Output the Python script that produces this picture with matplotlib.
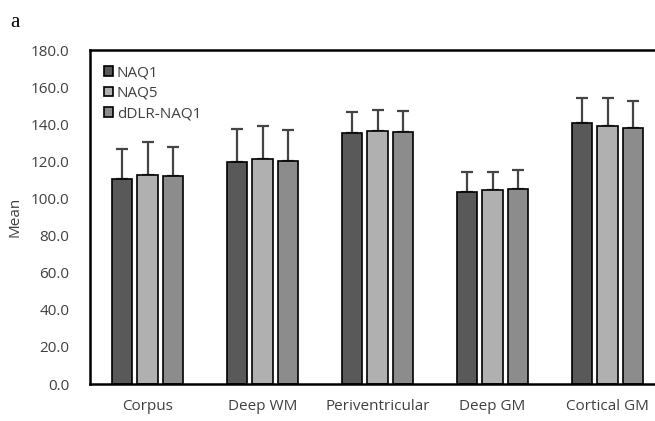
import numpy as np
import matplotlib.pyplot as plt

# regions and series (mean, upper SD)
regions = ["Corpus", "Deep WM", "Periventricular", "Deep GM", "Cortical GM"]
series = ["NAQ1", "NAQ5", "dDLR-NAQ1"]

naq1_mean = [110.5, 119.6, 135.2, 103.4, 140.6]
naq5_mean = [112.6, 121.2, 136.3, 104.5, 139.0]
ddlr_mean = [112.0, 120.1, 135.8, 105.1, 137.9]

naq1_sd = [16.1, 17.8, 11.3, 10.8, 13.5]
naq5_sd = [17.8, 17.8, 11.3, 9.7, 15.1]
ddlr_sd = [15.7, 16.7, 11.3, 10.2, 14.6]

y_ticks = [0, 20, 40, 60, 80, 100, 120, 140, 160, 180]

colors = ["#595959", "#b0b0b0", "#8c8c8c"]

plt.rcParams['font.family'] = ['Open Sans', 'DejaVu Sans']

fig = plt.figure(figsize=(6.55, 4.21), dpi=100)
ax = fig.add_axes([90 / 655, 37 / 421, 575 / 655, 334 / 421])

x = np.arange(len(regions))
means = [naq1_mean, naq5_mean, ddlr_mean]
sds = [naq1_sd, naq5_sd, ddlr_sd]
offsets = [-0.223, 0.0, 0.223]
width = 0.175

for i in range(3):
    ax.bar(x + offsets[i], means[i], width, color=colors[i], edgecolor="black",
           linewidth=1.2, label=series[i], zorder=2)
    ax.errorbar(x + offsets[i], means[i],
                yerr=[np.zeros(len(regions)), sds[i]],
                fmt="none", ecolor="#444444", elinewidth=1.6, capsize=4,
                capthick=1.6, zorder=1)

ax.set_xlim(-0.5, 4.5)
ax.set_ylim(0, 180)
ax.set_yticks(y_ticks)
ax.set_yticklabels(["{:.1f}".format(v) for v in y_ticks], color="#404040")
ax.set_xticks(x)
ax.set_xticklabels(regions, color="#404040")
ax.tick_params(axis="both", length=0, labelsize=11)
ax.tick_params(axis="y", pad=15)
ax.tick_params(axis="x", pad=11)

for s in ax.spines.values():
    s.set_linewidth(1.8)
    s.set_color("black")
ax.spines["right"].set_visible(False)

ax.set_ylabel("Mean", fontsize=11, color="#404040")
ax.yaxis.set_label_coords(-0.118, 0.5)

ax.legend(loc="upper left", bbox_to_anchor=(0.0, 0.995), frameon=False,
          fontsize=11, handlelength=0.6, handleheight=0.6,
          handletextpad=0.25, labelspacing=0.35, borderaxespad=0.5,
          labelcolor="#404040")

fig.text(10 / 655, 1 - 27 / 421, "a", fontsize=15, family="Liberation Serif")

fig.savefig("out.png", dpi=100)
